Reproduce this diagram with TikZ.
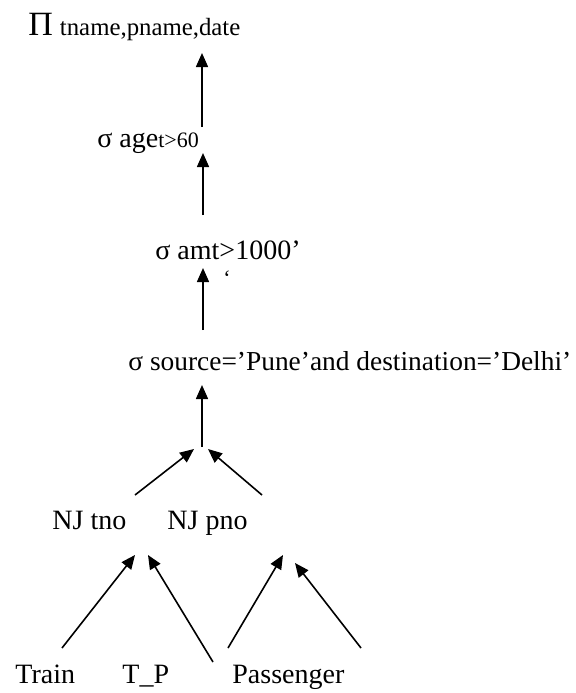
\documentclass[tikz,border=0pt]{standalone}
\usepackage{fontspec}
\setmainfont{Liberation Serif}
\usetikzlibrary{arrows.meta}

\begin{document}
\begin{tikzpicture}[
    x=0.5pt, y=-0.5pt,
    every node/.style={inner sep=0pt, anchor=base west, font=\fontsize{14}{17}\selectfont},
    small/.style={font=\fontsize{11}{13}\selectfont},
    arr/.style={line width=0.8pt, -{Triangle[length=7pt, width=6pt]}}
]
   \useasboundingbox (0,0) rectangle (576,693);

   % Operators
   \node (proj) at (28,35) {{\fontsize{17}{20}\selectfont Π} {\fontsize{12.4}{15}\selectfont tname,pname,date}};
   \node (selage) at (97,147) {σ age{\fontsize{11}{13}\selectfont t>60}};
   \node (selamt) at (155,259) {σ amt>1000’};
   \node[small] (stray) at (223,285) {‘};
   \node[font=\fontsize{13.7}{16}\selectfont] (selsrc) at (128,370) {σ source=’Pune’and destination=’Delhi’};
   \coordinate (meet) at (202,447);

   % Joins
   \node (njt) at (52,529) {NJ tno};
   \node (njp) at (167,529) {NJ pno};

   % Relations
   \node (train) at (15,683) {Train};
   \node (tp) at (122,683) {T\_P};
   \node (pass) at (232,683) {Passenger};

   % Edges
   \draw[arr] ([shift={(105,-20)}]selage.base west) -- ([shift={(174,18)}]proj.base west);
   \draw[arr] ([shift={(48,-44)}]selamt.base west) -- ([shift={(106,6)}]selage.base west);
   \draw[arr] ([shift={(75,-40)}]selsrc.base west) -- ([shift={(48,9)}]selamt.base west);
   \draw[arr] (meet) -- ([shift={(74,15)}]selsrc.base west);

   \draw[arr] ([shift={(83,-34)}]njt.base west) -- ([shift={(-8,2)}]meet);
   \draw[arr] ([shift={(95,-34)}]njp.base west) -- ([shift={(6,2)}]meet);

   \draw[arr] ([shift={(47,-35)}]train.base west) -- ([shift={(83,26)}]njt.base west);
   \draw[arr] ([shift={(-19,-21)}]pass.base west) -- ([shift={(96,26)}]njt.base west);
   \draw[arr] ([shift={(-4,-35)}]pass.base west) -- ([shift={(116,26)}]njp.base west);
   \draw[arr] ([shift={(129,-35)}]pass.base west) -- ([shift={(128,34)}]njp.base west);
\end{tikzpicture}
\end{document}
